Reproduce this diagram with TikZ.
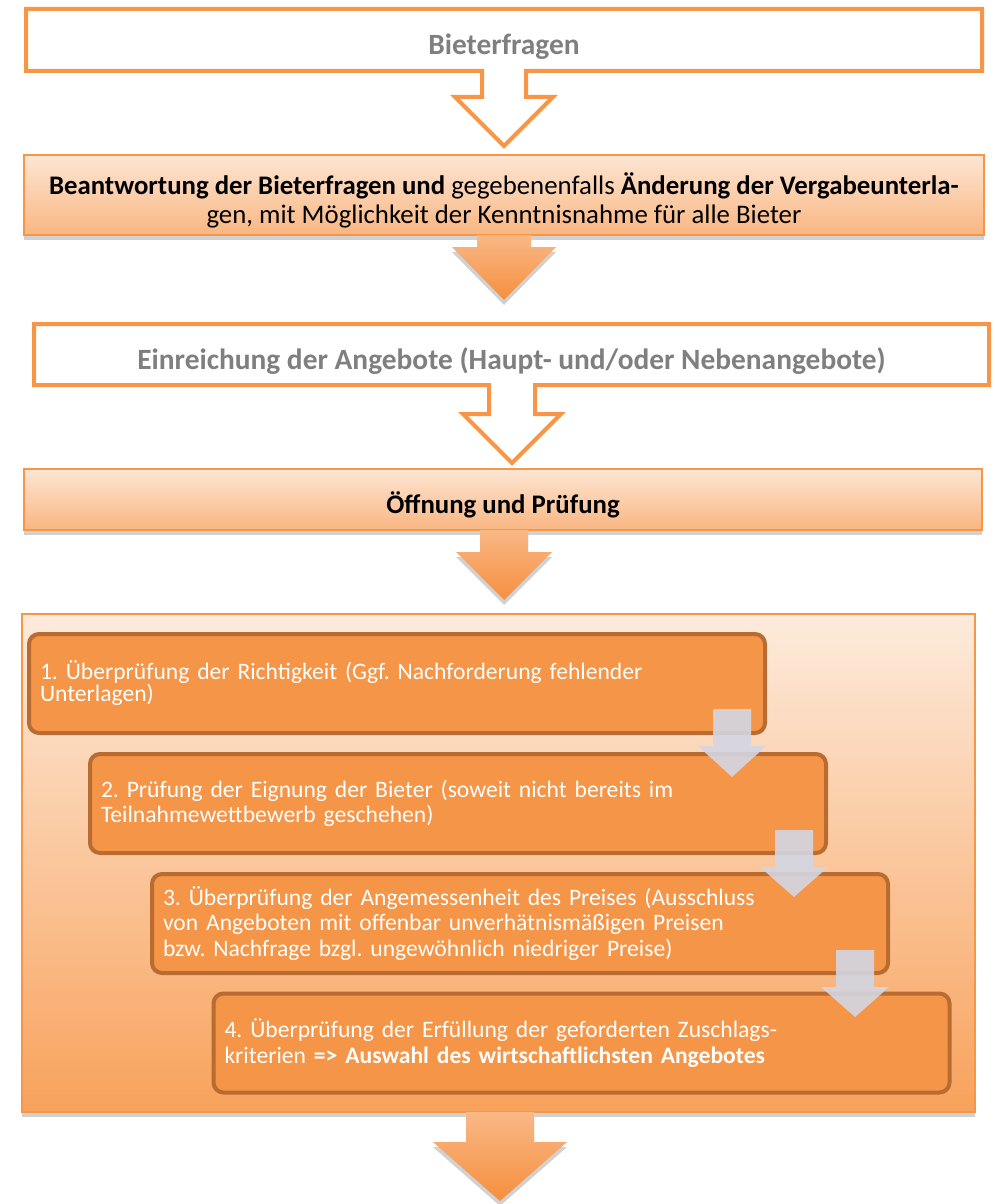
\documentclass[tikz,border=0pt]{standalone}
\usepackage{fontspec}
\setmainfont{Carlito}
\usetikzlibrary{shadows}
\frenchspacing

\definecolor{boxorange}{HTML}{F79646}
\definecolor{titlegray}{HTML}{7F7F7F}
\definecolor{peachtop}{HTML}{FDE6D4}
\definecolor{peachbot}{HTML}{F9B681}
\definecolor{arrowtop}{HTML}{F9B886}
\definecolor{arrowbot}{HTML}{F68F3E}
\definecolor{stepfill}{HTML}{F59547}
\definecolor{stepborder}{HTML}{B86C31}
\definecolor{hintarrow}{HTML}{D3D6E3}

% block arrow pointing down: [style]{x}{top}{head}{tip}{half stem}{half head}
\newcommand{\blockarrow}[7][]{%
  \path[#1] (#2-#6,#3) -- (#2+#6,#3) -- (#2+#6,#4) -- (#2+#7,#4)
    -- (#2,#5) -- (#2-#7,#4) -- (#2-#6,#4) -- cycle;}

\begin{document}
\begin{tikzpicture}[%
    x={(0.5pt,0)}, y={(0,-0.5pt)}, % one unit = one pixel of the layout, y going down
    line join=miter,
    ]
% -------------------------------------------------
% Box and arrow styles
\tikzset{
  base/.style={inner sep=0pt, outer sep=0pt},
  hollowbox/.style={base, minimum height=31pt},
  hollow/.style={draw=boxorange, line width=2pt},
  soft/.style={drop shadow={shadow xshift=0pt, shadow yshift=-2.5pt,
      fill=black, opacity=0.18}},
  shadebox/.style={base, soft, draw=boxorange, line width=0.7pt,
      top color=peachtop, bottom color=peachbot},
  fillarrow/.style={soft, top color=arrowtop, bottom color=arrowbot},
  title/.style={font=\fontsize{14.7}{17}\selectfont\bfseries, text=titlegray},
  plain/.style={font=\fontsize{13.4}{14.5}\selectfont, align=center},
  stepbox/.style={draw=stepborder, line width=2pt, fill=stepfill,
      rounded corners=5pt, minimum width=368pt, minimum height=49.5pt,
      text width=357pt, inner sep=5.5pt, align=left, text=white,
      font=\fontsize{11.8}{12.75}\selectfont},
  hint/.style={fill=hintarrow, opacity=0.9},
}
\useasboundingbox (0,0) rectangle (995,1204);
% -------------------------------------------------
% Top of the flow
\node [hollowbox, minimum width=478pt] (bieter) at (504,40) {};
\draw [hollow] (bieter.south east) -- (bieter.north east) -- (bieter.north west)
  -- (bieter.south west) -- (482,71) -- (482,97) -- (455,97) -- (504,146)
  -- (553,97) -- (526,97) -- (526,71) -- cycle;
\node [title] (biettext) at ([yshift=-3.5pt]bieter.center) {Bieterfragen};

\node [shadebox, minimum width=480pt, minimum height=40pt] (antwort) at (504,195) {};
\node [plain] (antwtext) at ([yshift=-2.5pt]antwort.center)
  {\textbf{Beantwortung der Bieterfragen und} gegebenenfalls \textbf{Änderung der Vergabeunterla-}\\
   gen, mit Möglichkeit der Kenntnisnahme für alle Bieter};
\blockarrow[fillarrow]{504}{235}{247}{300}{27}{52}

\node [hollowbox, minimum width=477.5pt, minimum height=30.5pt] (einreich) at (511.5,354.5) {};
\draw [hollow] (einreich.south east) -- (einreich.north east) -- (einreich.north west)
  -- (einreich.south west) -- (489,385) -- (489,414) -- (463,414) -- (512,463)
  -- (561,414) -- (535,414) -- (535,385) -- cycle;
\node [title] (einrtext) at ([yshift=-3.5pt]einreich.center)
  {Einreichung der Angebote (Haupt- und/oder Nebenangebote)};

\node [shadebox, minimum width=479pt, minimum height=30.5pt] (oeffnung) at (503,499.5) {};
\node [title, text=black, font=\fontsize{13.4}{15}\selectfont\bfseries] (oefftext)
  at ([yshift=-2.5pt]oeffnung.center) {Öffnung und Prüfung};
\blockarrow[fillarrow]{504}{530}{552}{600}{24}{48}

% -------------------------------------------------
% The four checks
\node [shadebox, minimum width=476.5pt, minimum height=249pt,
  top color=peachtop!80!white, bottom color=boxorange!85!peachtop] (pruefung) at (498.5,863) {};
\node [stepbox, font=\fontsize{11.8}{11}\selectfont] (s1) at (397,683.5)
  {1. Überprüfung der Richtigkeit (Ggf. Nachforderung fehlender\\Unterlagen)};
\node [stepbox] (s2) at (458,803.5)
  {2. Prüfung der Eignung der Bieter (soweit nicht bereits im\\Teilnahmewettbewerb geschehen)};
\node [stepbox] (s3) at (520,923.5)
  {3. Überprüfung der Angemessenheit des Preises (Ausschluss\\von Angeboten mit offenbar unverhätnismäßigen Preisen\\bzw. Nachfrage bzgl. ungewöhnlich niedriger Preise)};
\node [stepbox] (s4) at (581.5,1043)
  {4. Überprüfung der Erfüllung der geforderten Zuschlags-\\kriterien \textbf{=> Auswahl des wirtschaftlichsten Angebotes}};
\blockarrow[hint]{732}{709}{746}{777}{19}{34}
\blockarrow[hint]{794}{830}{867}{897}{19}{34}
\blockarrow[hint]{855}{950}{987}{1017}{19}{34}

\blockarrow[fillarrow]{500}{1112}{1142}{1201}{34}{67}
% -------------------------------------------------
\end{tikzpicture}
\end{document}
